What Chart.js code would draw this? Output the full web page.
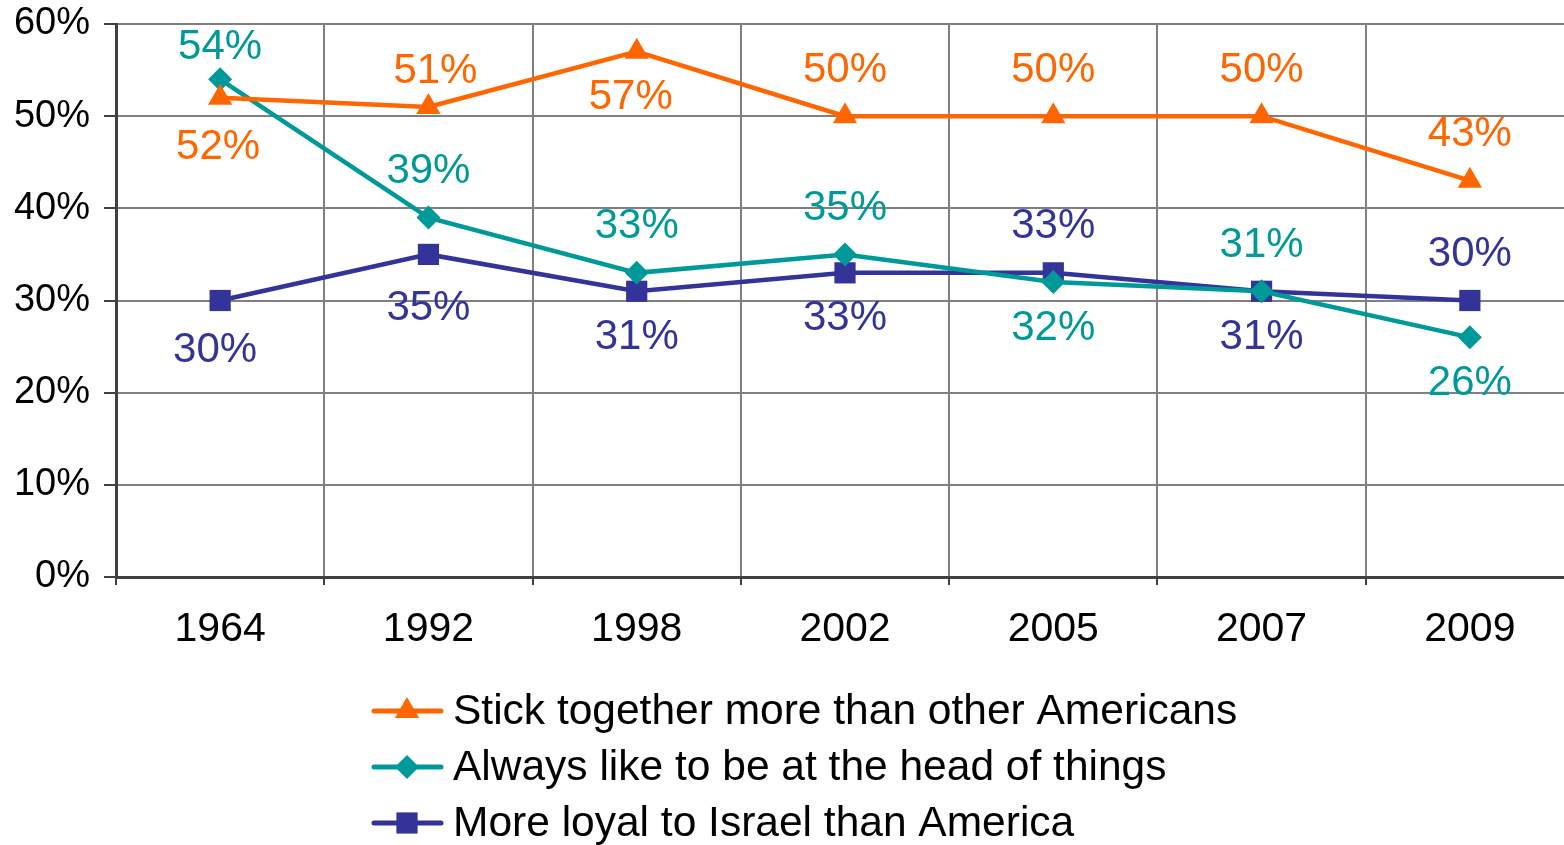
<!DOCTYPE html>
<html>
<head>
<meta charset="utf-8">
<script src="https://cdn.jsdelivr.net/npm/chart.js@4/dist/chart.umd.min.js"></script>
<style>
  html, body { margin: 0; padding: 0; background: #fff; overflow: hidden; }
  /* plot area runs slightly past the right edge, like the original */
  #wrap { width: 1564px; height: 845px; overflow: hidden; }
</style>
</head>
<body>
<div id="wrap"><canvas id="trendChart" width="1574" height="845"></canvas></div>
<script>
const years = ['1964', '1992', '1998', '2002', '2005', '2007', '2009'];
const stickTogether = [52, 51, 57, 50, 50, 50, 43];
const headOfThings = [54, 39, 33, 35, 32, 31, 26];
const loyalToIsrael = [30, 35, 31, 33, 33, 31, 30];
const seriesNames = [
  'Stick together more than other Americans',
  'Always like to be at the head of things',
  'More loyal to Israel than America'
];
const yTickValues = [0, 10, 20, 30, 40, 50, 60];

// where each value label sits relative to its point
const labelSide = [
  ['below', 'above', 'below', 'above', 'above', 'above', 'above'],
  ['above', 'above', 'above', 'above', 'below', 'above', 'below'],
  ['below', 'below', 'below', 'below', 'above', 'below', 'above']
];
// a few labels were hand-moved in the original: "series,index": [dx, dy]
const labelNudge = {
  '0,0': [-2, 4],
  '0,1': [7, 10],
  '0,2': [-6, 0],
  '1,0': [0, 14],
  '2,0': [-5, 4],
  '2,1': [0, 8]
};

const FONT = '"Liberation Sans", Arial, sans-serif';
const colors = ['#FF6600', '#009999', '#333399'];
const markers = ['triangle', 'rectRot', 'rect'];
const markerSize = [14, 12, 15];

const valueLabels = {
  id: 'valueLabels',
  afterDatasetsDraw(chart) {
    const ctx = chart.ctx;
    ctx.save();
    ctx.font = '42px ' + FONT;
    ctx.textAlign = 'center';
    ctx.textBaseline = 'middle';
    chart.data.datasets.forEach((ds, i) => {
      const meta = chart.getDatasetMeta(i);
      ctx.fillStyle = colors[i];
      meta.data.forEach((pt, j) => {
        const dy = labelSide[i][j] === 'above' ? -46 : 46;
        const n = labelNudge[i + ',' + j] || [0, 0];
        ctx.fillText(ds.data[j] + '%', pt.x + n[0], pt.y + dy + n[1]);
      });
    });
    ctx.restore();
  }
};

const bottomLegend = {
  id: 'bottomLegend',
  afterDraw(chart) {
    const ctx = chart.ctx;
    ctx.save();
    chart.data.datasets.forEach((ds, i) => {
      const y = 711 + i * 56;
      ctx.strokeStyle = colors[i];
      ctx.lineWidth = 5;
      ctx.lineCap = 'round';
      ctx.beginPath();
      ctx.moveTo(374, y);
      ctx.lineTo(441, y);
      ctx.stroke();
      ctx.fillStyle = colors[i];
      Chart.helpers.drawPoint(ctx, {
        pointStyle: markers[i], radius: markerSize[i], borderWidth: 0
      }, 407, y);
      ctx.fillStyle = '#000';
      ctx.font = '42.5px ' + FONT;
      ctx.textAlign = 'left';
      ctx.textBaseline = 'middle';
      ctx.fillText(ds.label, 453, y + 1);
    });
    ctx.restore();
  }
};

const allSeries = [stickTogether, headOfThings, loyalToIsrael];

new Chart(document.getElementById('trendChart'), {
  type: 'line',
  data: {
    labels: years,
    datasets: allSeries.map((vals, i) => ({
      label: seriesNames[i],
      data: vals,
      borderColor: colors[i],
      backgroundColor: colors[i],
      borderWidth: 4.5,
      pointStyle: markers[i],
      pointRadius: markerSize[i],
      pointHoverRadius: markerSize[i],
      pointBorderWidth: 0,
      tension: 0,
      fill: false
    }))
  },
  options: {
    responsive: false,
    animation: false,
    events: [],
    layout: {
      autoPadding: false,
      padding: { top: 24, right: 0, bottom: 0, left: 0 }
    },
    plugins: {
      legend: { display: false },
      tooltip: { enabled: false }
    },
    scales: {
      x: {
        offset: true,
        grid: {
          offset: true,
          color: '#808080',
          lineWidth: 2,
          tickLength: 8,
          tickColor: '#404040'
        },
        border: { color: '#404040', width: 3 },
        ticks: {
          color: '#000',
          font: { family: FONT, size: 41 },
          padding: 20,
          maxRotation: 0
        },
        afterFit(scale) {
          scale.height = 845 - 577;
          scale.paddingLeft = 0;
          scale.paddingRight = 0;
        }
      },
      y: {
        min: 0,
        max: 60,
        afterBuildTicks(scale) {
          scale.ticks = yTickValues.map(v => ({ value: v }));
        },
        grid: {
          color: '#808080',
          lineWidth: 2,
          tickLength: 12,
          tickColor: '#404040'
        },
        border: { color: '#404040', width: 3 },
        ticks: {
          color: '#000',
          font: { family: FONT, size: 38 },
          padding: 14,
          callback: v => v + '%'
        },
        afterFit(scale) {
          scale.width = 116;
          scale.paddingTop = 0;
          scale.paddingBottom = 0;
        }
      }
    }
  },
  plugins: [valueLabels, bottomLegend]
});
</script>
</body>
</html>
